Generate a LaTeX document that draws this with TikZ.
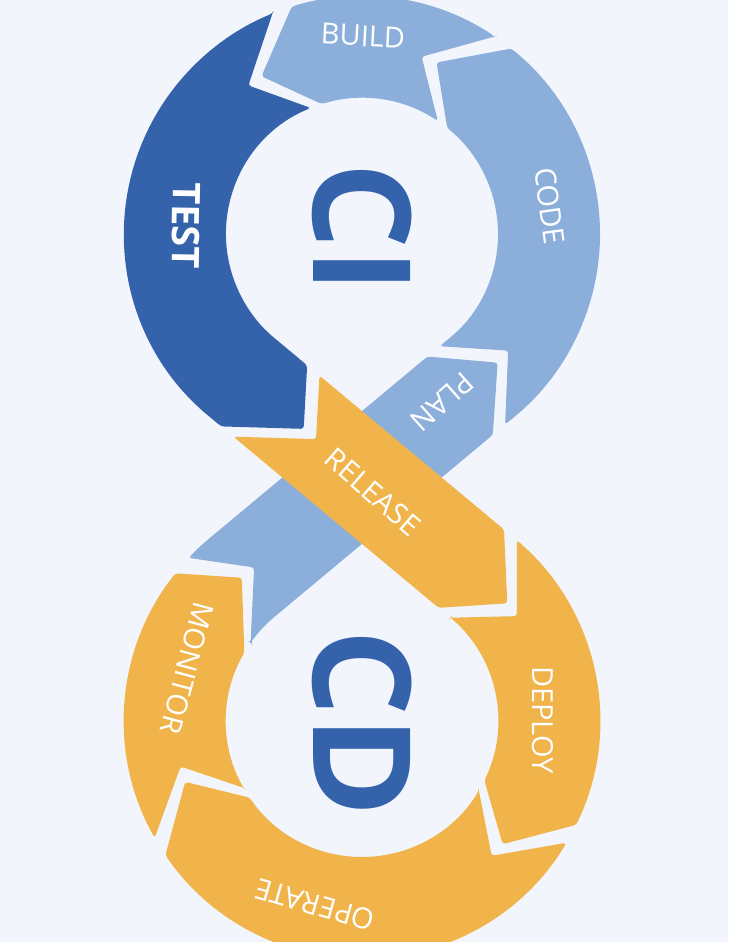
\documentclass[tikz,border=0pt]{standalone}
\usepackage{fontspec}
\setmainfont{Open Sans}
\definecolor{bgc}{HTML}{F2F6FC}
\definecolor{dblue}{HTML}{3463AC}
\definecolor{lblue}{HTML}{8BAFDA}
\definecolor{orng}{HTML}{F0B44A}
% point on the figure-8 mid path at arc length #1, lateral offset #2 (positive = left)
\newcommand\ptAt[3]{%
  \pgfmathsetmacro\PPs{#1}%
  \ifdim\PPs pt<0pt \pgfmathsetmacro\PPs{\PPs+2453.76}\fi
  \ifdim\PPs pt>2453.76pt \pgfmathsetmacro\PPs{\PPs-2453.76}\fi
  \ifdim\PPs pt<914.96pt
    \pgfmathsetmacro\PPa{-50.17+0.306397*\PPs}\pgfmathsetmacro\PPr{187-(#2)}%
    \coordinate (#3) at ({362+\PPr*cos(\PPa)},{708+\PPr*sin(\PPa)});%
  \else\ifdim\PPs pt<1226.88pt
    \pgfmathsetmacro\PPt{\PPs-914.96}%
    \coordinate (#3) at ({242.22+0.76802*\PPt+0.64042*(#2)},{564.38-0.64042*\PPt+0.76802*(#2)});%
  \else\ifdim\PPs pt<2141.84pt
    \pgfmathsetmacro\PPa{50.17-0.306397*(\PPs-1226.88)}\pgfmathsetmacro\PPr{187+(#2)}%
    \coordinate (#3) at ({362+\PPr*cos(\PPa)},{221+\PPr*sin(\PPa)});%
  \else
    \pgfmathsetmacro\PPt{\PPs-2141.84}%
    \coordinate (#3) at ({242.22+0.76802*\PPt-0.64042*(#2)},{364.62+0.64042*\PPt+0.76802*(#2)});%
  \fi\fi\fi}
\begin{document}
\begin{tikzpicture}[x=1pt,y=1pt,
  seg/.style={rounded corners=3pt},
  lbl/.style={text=white, inner sep=0pt, font=\fontsize{29}{34}\selectfont},
  big/.style={text=dblue, inner sep=0pt, font=\fontsize{136}{150}\selectfont\bfseries}]
\fill[bgc] (0,0) rectangle (728,942);
\useasboundingbox (0,0) rectangle (728,942);
% ---------- coordinates ----------
% CODE
\ptAt{-12.2}{-51}{cRn}\ptAt{37.8}{0}{cN}\ptAt{-12.2}{51}{cLn}\ptAt{0}{51}{cL0}
\ptAt{380.8}{0}{cT}\ptAt{330.8}{-51}{cRt}
% BUILD
\ptAt{346.8}{-51}{bRn}\ptAt{396.8}{0}{bN}\ptAt{346.8}{51}{bLn}
\ptAt{563.6}{0}{bT}\ptAt{513.6}{-51}{bRt}
% TEST
\ptAt{529.6}{-51}{tRn}\ptAt{579.6}{0}{tN}\ptAt{529.6}{51}{tLn}
\ptAt{957}{51}{tLt}\ptAt{995}{0}{tT}\ptAt{930}{-51}{tRt}\ptAt{914.96}{-51}{tRF}
% RELEASE
\ptAt{946}{-51}{rRn}\ptAt{1011}{0}{rN}\ptAt{973}{51}{rLn}
\ptAt{1213.3}{51}{rLt}\ptAt{1263.3}{0}{rT}\ptAt{1213.3}{-51}{rRt}
% DEPLOY
\ptAt{1229.3}{-51}{dRn}\ptAt{1279.3}{0}{dN}\ptAt{1229.3}{51}{dLn}
\ptAt{1525.1}{0}{dT}\ptAt{1475.1}{-51}{dRt}
% OPERATE
\ptAt{1491.1}{-51}{oRn}\ptAt{1541.1}{0}{oN}\ptAt{1491.1}{51}{oLn}
\ptAt{1916.1}{0}{oT}\ptAt{1866.1}{-51}{oRt}
% MONITOR
\ptAt{1882.1}{-51}{mRn}\ptAt{1932.1}{0}{mN}\ptAt{1882.1}{51}{mLn}
\ptAt{2141.3}{0}{mT}\ptAt{2076.3}{-51}{mRt}
% PLAN
\ptAt{2092.3}{-51}{pRn}\ptAt{2157.3}{0}{pN}\ptAt{2119.3}{51}{pLn}
\ptAt{2425.56}{51}{pLt}\ptAt{21.8}{0}{pT}\ptAt{2425.56}{-51}{pRt}\ptAt{2141.84}{-51}{pRG}
% ---------- segments ----------
\fill[lblue, seg] (pRn) -- (pN) -- (pLn) arc[start angle=-223.26, end angle=-230.17, radius=238]
  -- (pLt) -- (pT) -- (pRt) -- (pRG) arc[start angle=-230.17, end angle=-214.99, radius=136] -- cycle;
\fill[lblue, seg] (cRn) -- (cN) -- (cLn) -- (cL0) arc[start angle=-50.17, end angle=51.19, radius=136]
  -- (cT) -- (cRt) arc[start angle=51.19, end angle=-50.17, radius=238] -- cycle;
\fill[lblue, seg] (bRn) -- (bN) -- (bLn) arc[start angle=56.09, end angle=107.20, radius=136]
  -- (bT) -- (bRt) arc[start angle=107.20, end angle=56.09, radius=238] -- cycle;
\fill[dblue, seg] (tRn) -- (tN) -- (tLn) arc[start angle=112.10, end angle=230.17, radius=136]
  -- (tLt) -- (tT) -- (tRt) -- (tRF) arc[start angle=230.17, end angle=112.10, radius=238] -- cycle;
\fill[orng, seg] (dRn) -- (dN) -- (dLn) arc[start angle=49.43, end angle=-25.88, radius=238]
  -- (dT) -- (dRt) arc[start angle=-25.88, end angle=49.43, radius=136] -- cycle;
\fill[orng, seg] (oRn) -- (oN) -- (oLn) arc[start angle=-30.79, end angle=-145.69, radius=238]
  -- (oT) -- (oRt) arc[start angle=-145.69, end angle=-30.79, radius=136] -- cycle;
\fill[orng, seg] (mRn) -- (mN) -- (mLn) arc[start angle=-150.59, end angle=-218.36, radius=238]
  -- (mT) -- (mRt) arc[start angle=-210.09, end angle=-150.59, radius=136] -- cycle;
\fill[orng, seg] (rRn) -- (rN) -- (rLn) -- (rLt) -- (rT) -- (rRt) -- cycle;
% ---------- labels ----------
\node[lbl, rotate=-3] (lBuild) at (363,906) {BUILD};
\node[lbl, rotate=-82] (lCode) at (550,736) {CODE};
\node[lbl, rotate=-91, font=\fontsize{38}{44}\selectfont\bfseries] (lTest) at (186,716) {TEST};
\node[lbl, rotate=-138.5] (lPlan) at (442,540) {PLAN};
\node[lbl, rotate=-41] (lRelease) at (373,450) {RELEASE};
\node[lbl, rotate=-90] (lDeploy) at (543,222) {DEPLOY};
\node[lbl, rotate=164] (lOperate) at (315,37) {OPERATE};
\node[lbl, rotate=-105] (lMonitor) at (187,274) {MONITOR};
\node[big, rotate=-90] (lCI) at (362,714) {CI};
\node[big, rotate=-90] (lCD) at (362,218.5) {CD};
\end{tikzpicture}
\end{document}
